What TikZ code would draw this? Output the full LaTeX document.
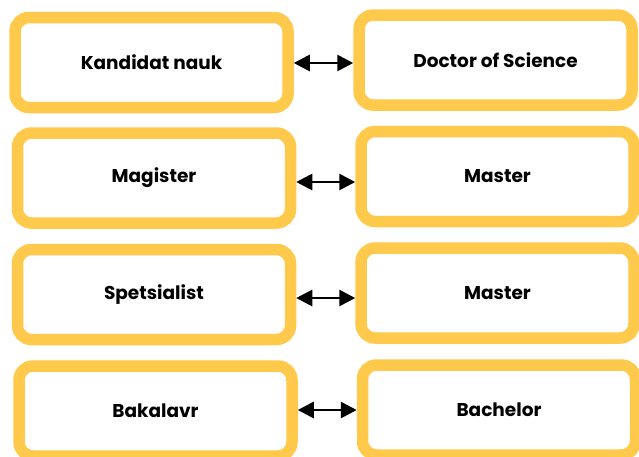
\documentclass[tikz,border=0pt]{standalone}
\usepackage{fontspec}
\setmainfont{Poppins}
\usetikzlibrary{arrows.meta}
\definecolor{boxyellow}{HTML}{FFC94B}
\tikzset{
  degbox/.style={draw=boxyellow, line width=11.5pt, rounded corners=14pt, fill=white,
    minimum width=273pt, minimum height=90pt, inner sep=0pt,
    font=\fontsize{18.5}{22}\selectfont\bfseries, text=black},
  link/.style={line width=2.8pt, {Triangle[length=16pt,width=16pt]}-{Triangle[length=16pt,width=16pt]}}
}
\begin{document}
\begin{tikzpicture}[x=1pt,y=-1pt]
\useasboundingbox[fill=white] (0,0) rectangle (639,456);
\node[degbox] (l1) at (151.5,62.5) {Kandidat nauk};
\node[degbox] (r1) at (495.5,60) {Doctor of Science};
\node[degbox] (l2) at (154,178) {Magister};
\node[degbox] (r2) at (497.5,176.5) {Master};
\node[degbox] (l3) at (154,294.5) {Spetsialist};
\node[degbox] (r3) at (497.5,293) {Master};
\node[degbox] (l4) at (155.5,411) {Bakalavr};
\node[degbox] (r4) at (499,410) {Bachelor};
\draw[link] ([yshift=-0.5pt]l1.east) -- ([yshift=-0.5pt]l1.east -| r1.west);
\draw[link] ([yshift=-4pt]l2.east) -- ([yshift=-4pt]l2.east -| r2.west);
\draw[link] ([yshift=-3.5pt]l3.east) -- ([yshift=-3.5pt]l3.east -| r3.west);
\draw[link] ([yshift=1pt]l4.east) -- ([yshift=1pt]l4.east -| r4.west);
\end{tikzpicture}
\end{document}
